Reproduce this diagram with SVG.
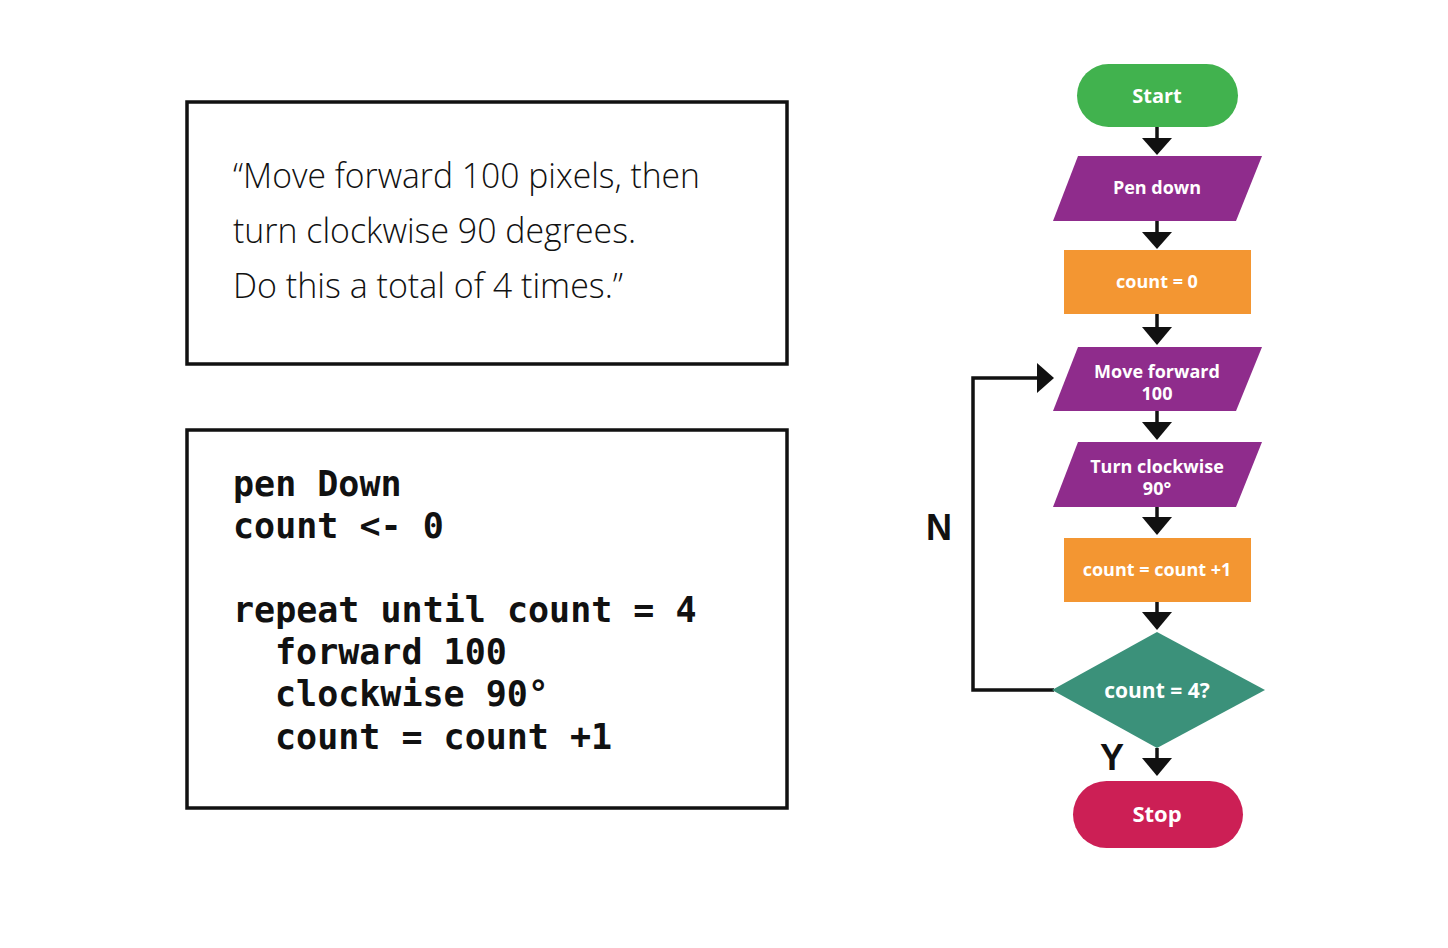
<svg xmlns="http://www.w3.org/2000/svg" width="1448" height="948" viewBox="0 0 1448 948">
<style>
.box{fill:#fff;stroke:#111;stroke-width:3.5}
.hand{font-family:"Open Sans","Liberation Sans",sans-serif;font-size:35px;fill:#111;font-weight:300}
.code{font-family:"DejaVu Sans Mono","Liberation Mono",monospace;font-size:35px;font-weight:bold;fill:#111}
.lbl{font-family:"Open Sans","Liberation Sans",sans-serif;font-size:18px;font-weight:bold;fill:#fff;text-anchor:middle}
.big{font-size:21px}
.yn{font-family:"Liberation Sans",sans-serif;font-size:36px;font-weight:bold;fill:#111;text-anchor:middle}
.ln{fill:none;stroke:#111;stroke-width:3.5}
.ah{fill:#111}
</style>
<rect width="1448" height="948" fill="#fff"/>
<g id="description">
<rect class="box" x="187" y="102" width="600" height="262"/>
<text class="hand" x="233" y="188" textLength="467" lengthAdjust="spacingAndGlyphs">“Move forward 100 pixels, then</text>
<text class="hand" x="233" y="243" textLength="403" lengthAdjust="spacingAndGlyphs">turn clockwise 90 degrees.</text>
<text class="hand" x="233" y="298" textLength="390" lengthAdjust="spacingAndGlyphs">Do this a total of 4 times.”</text>
</g>
<g id="pseudocode">
<rect class="box" x="187" y="430" width="600" height="378"/>
<text class="code" x="233" y="496">pen Down</text>
<text class="code" x="233" y="538">count &lt;- 0</text>
<text class="code" x="233" y="622">repeat until count = 4</text>
<text class="code" x="275" y="664">forward 100</text>
<text class="code" x="275" y="706">clockwise 90°</text>
<text class="code" x="275" y="749">count = count +1</text>
</g>
<g id="connectors">
<line class="ln" x1="1157" y1="127" x2="1157" y2="140"/>
<polygon class="ah" points="1142,138 1172,138 1157,155"/>
<line class="ln" x1="1157" y1="221" x2="1157" y2="234"/>
<polygon class="ah" points="1142,232 1172,232 1157,249"/>
<line class="ln" x1="1157" y1="314" x2="1157" y2="329"/>
<polygon class="ah" points="1142,327 1172,327 1157,345"/>
<line class="ln" x1="1157" y1="411" x2="1157" y2="424"/>
<polygon class="ah" points="1142,422 1172,422 1157,440"/>
<line class="ln" x1="1157" y1="507" x2="1157" y2="519"/>
<polygon class="ah" points="1142,517 1172,517 1157,535"/>
<line class="ln" x1="1157" y1="602" x2="1157" y2="614"/>
<polygon class="ah" points="1142,612 1172,612 1157,630"/>
<line class="ln" x1="1157" y1="748" x2="1157" y2="760"/>
<polygon class="ah" points="1142,758 1172,758 1157,776"/>
<polyline class="ln" points="1054,690 973,690 973,378 1040,378"/>
<polygon class="ah" points="1037,363 1037,393 1054,378"/>
<text class="yn" x="1112" y="770">Y</text>
<text class="yn" x="939" y="540">N</text>
</g>
<g id="start">
<rect x="1077" y="64" width="161" height="63" rx="31.5" fill="#41b24e"/>
<text class="lbl" x="1157" y="103" style="font-size:20px">Start</text>
</g>
<g id="pendown">
<polygon points="1078,156 1262,156 1236,221 1053,221" fill="#8f2c8c"/>
<text class="lbl" x="1157" y="194">Pen down</text>
</g>
<g id="count0">
<rect x="1064" y="250" width="187" height="64" fill="#f39632"/>
<text class="lbl" x="1157" y="288">count = 0</text>
</g>
<g id="move">
<polygon points="1078,347 1262,347 1236,411 1053,411" fill="#8f2c8c"/>
<text class="lbl" x="1157" y="378">Move forward</text>
<text class="lbl" x="1157" y="400">100</text>
</g>
<g id="turn">
<polygon points="1078,442 1262,442 1236,507 1053,507" fill="#8f2c8c"/>
<text class="lbl" x="1157" y="473">Turn clockwise</text>
<text class="lbl" x="1157" y="495">90°</text>
</g>
<g id="increment">
<rect x="1064" y="538" width="187" height="64" fill="#f39632"/>
<text class="lbl" x="1157" y="576">count = count +1</text>
</g>
<g id="decision">
<polygon points="1157,632 1265,690 1157,748 1052,690" fill="#3b917a"/>
<text class="lbl big" x="1157" y="698">count = 4?</text>
</g>
<g id="stop">
<rect x="1073" y="781" width="170" height="67" rx="33.5" fill="#cc1f55"/>
<text class="lbl" x="1157" y="822" style="font-size:22px">Stop</text>
</g>
</svg>
